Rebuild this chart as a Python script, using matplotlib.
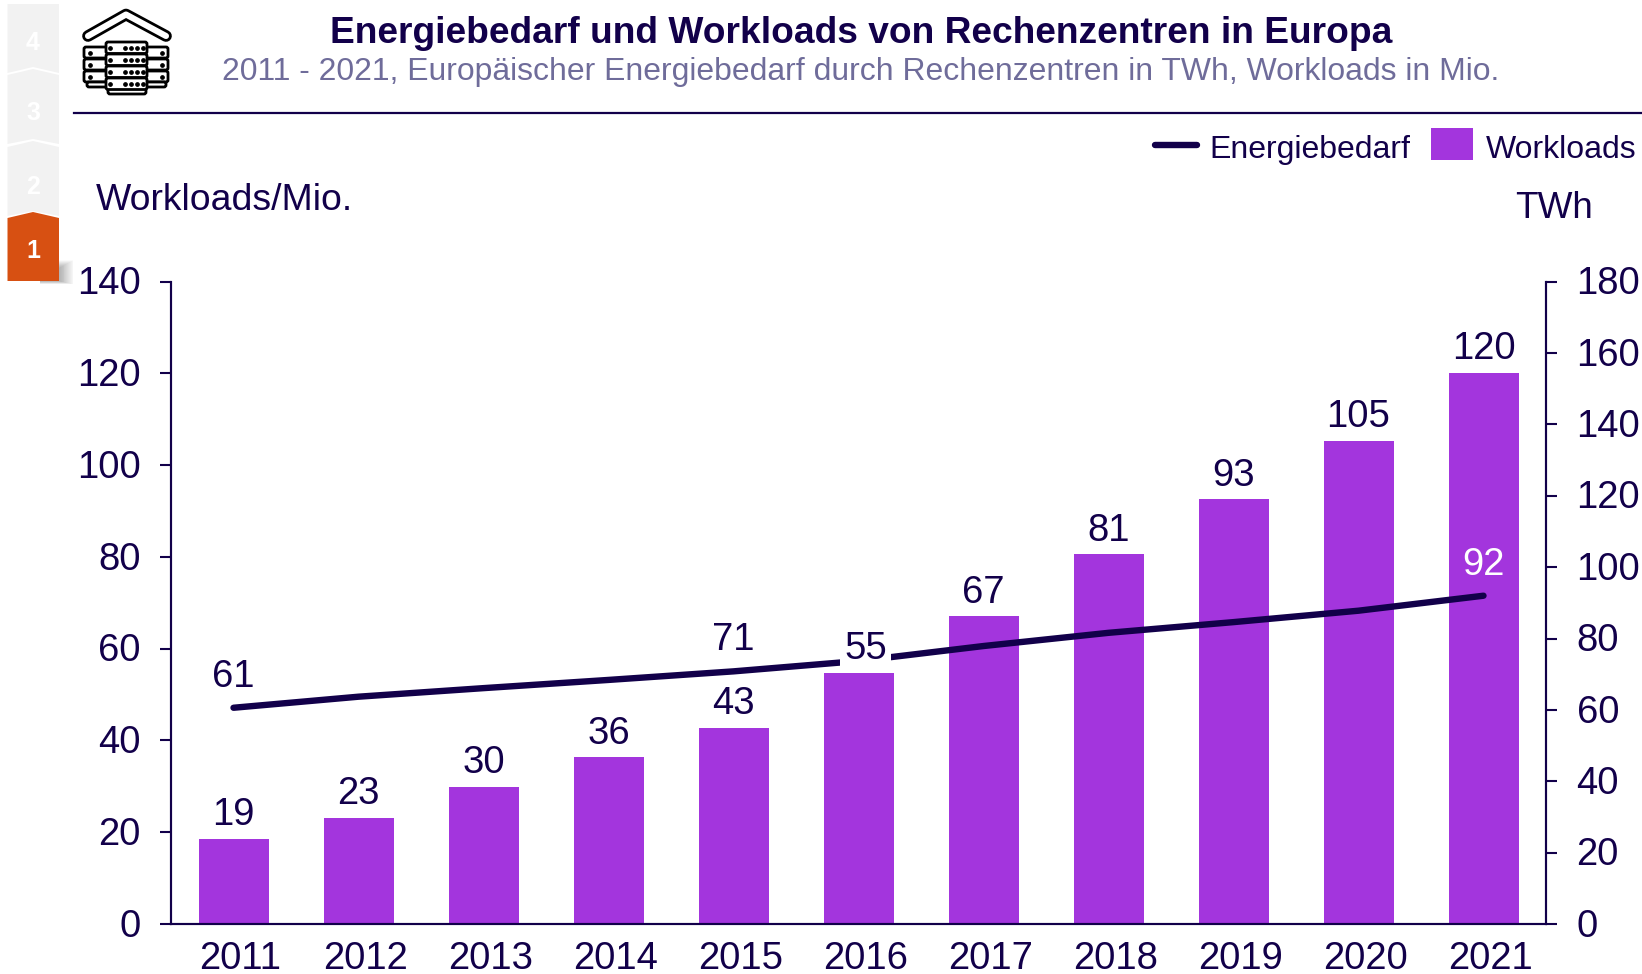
import matplotlib
matplotlib.use("Agg")
import matplotlib.pyplot as plt
from matplotlib.legend_handler import HandlerPatch
from matplotlib.lines import Line2D
from matplotlib.patches import Patch, Polygon, Rectangle, FancyBboxPatch
from matplotlib.transforms import ScaledTranslation

plt.rcParams['font.family'] = ['Liberation Sans', 'DejaVu Sans']

W, H = 1642, 974
NAVY = '#12004A'
GREY_TEXT = '#6F6C9A'
PURPLE = '#A335DD'
ORANGE = '#D75012'
TAB_GREY = '#F2F2F2'

years = ['2011', '2012', '2013', '2014', '2015', '2016', '2017', '2018', '2019', '2020', '2021']
workloads = [18.6, 23.2, 29.9, 36.3, 42.8, 54.8, 67.1, 80.6, 92.6, 105.3, 120.1]
energy = [60.6, 63.7, 66.1, 68.4, 70.8, 73.7, 77.9, 81.6, 84.6, 87.8, 92.0]
energy_labels = {0: '61', 4: '71', 10: '92'}
left_ticks = [0, 20, 40, 60, 80, 100, 120, 140]
right_ticks = [0, 20, 40, 60, 80, 100, 120, 140, 160, 180]

fig = plt.figure(figsize=(W / 100, H / 100), dpi=100, facecolor='white')

# pixel coordinate layer for header, tabs and icon
deco = fig.add_axes([0, 0, 1, 1])
deco.set_xlim(0, W)
deco.set_ylim(H, 0)
deco.axis('off')


def tab(top_side, top_mid, bottom_side, bottom_mid, color, num, num_y):
    pts = [(7.5, top_side), (33, top_mid), (59, top_side), (59, bottom_side),
           (33, bottom_mid), (7.5, bottom_side)]
    deco.add_patch(Polygon(pts, closed=True, fc=color, ec='none'))
    deco.text(33, num_y, num, color='white', fontsize=18, fontweight='bold', ha='center', va='center')


# soft shadow under the active tab, stacked faint layers
for grow in range(1, 17):
    deco.add_patch(Rectangle((40, 268 - grow * 0.5), 19 + grow * 0.9, 13 + grow * 0.7,
                             fc='black', ec='none', alpha=0.02))

tab(4, 4, 73, 67, TAB_GREY, '4', 43)
tab(75, 69, 144, 139, TAB_GREY, '3', 113)
tab(147, 141, 216, 211, TAB_GREY, '2', 187)
tab(218, 212, 281, 281, ORANGE, '1', 251)

# server icon
deco.plot([88, 126, 166], [36, 14.5, 36], color='black', lw=8.4, solid_capstyle='round', solid_joinstyle='round')
deco.plot([88, 126, 166], [36, 14.5, 36], color='white', lw=4.4, solid_capstyle='round', solid_joinstyle='round')


def server(x0, x1, y0, y1):
    deco.add_patch(FancyBboxPatch((x0, y0), x1 - x0, y1 - y0, boxstyle='round,pad=0,rounding_size=2',
                                  fc='white', ec='black', lw=2))


for y0 in [47, 59, 71]:
    server(84, 108, y0, y0 + 11)
    server(146, 168, y0, y0 + 11)
    deco.plot([90, 162], [y0 + 5.5, y0 + 5.5], ls='none', marker='o', ms=2.4, color='black')
server(87, 108, 82, 87)
server(146, 166, 82, 87)
server(108, 146, 88, 94)
for y0 in [42, 54, 66, 78]:
    server(106, 147, y0, y0 + 11.5)
    deco.plot([110, 125, 131, 137, 143], [y0 + 6] * 5, ls='none', marker='o', ms=2.4, color='black')

deco.text(861, 33.5, 'Energiebedarf und Workloads von Rechenzentren in Europa', color=NAVY,
          fontsize=26.7, fontweight='bold', ha='center', va='center')
deco.text(861, 72, '2011 - 2021, Europäischer Energiebedarf durch Rechenzentren in TWh, Workloads in Mio.',
          color=GREY_TEXT, fontsize=22.95, ha='center', va='center')
deco.plot([74, W], [113, 113], color=NAVY, lw=1.6)
deco.text(96, 200, 'Workloads/Mio.', color=NAVY, fontsize=26.9, ha='left', va='center')
deco.text(1515, 209, 'TWh', color=NAVY, fontsize=26.6, ha='left', va='center')

# chart
ax = fig.add_axes([171 / W, 1 - 924 / H, (1546 - 171) / W, (924 - 281.7) / H])
ax.patch.set_alpha(0)
ax2 = ax.twinx()
xs = list(range(len(years)))

ax.bar(xs, workloads, width=0.56, color=PURPLE)
ax2.plot(xs, energy, color=NAVY, lw=4.6, solid_capstyle='round', solid_joinstyle='round')

ax.set_xlim(-0.5, 10.5)
ax.set_ylim(0, 140)
ax2.set_ylim(0, 180)
ax.set_xticks(xs, years)
ax.set_yticks(left_ticks)
ax2.set_yticks(right_ticks)

for a in (ax, ax2):
    a.spines['top'].set_visible(False)
    for s in a.spines.values():
        s.set_color(NAVY)
        s.set_linewidth(1.5)
ax.tick_params(axis='x', length=0, labelsize=27.5, labelcolor=NAVY, pad=12)
ax.tick_params(axis='y', length=8, width=1.5, color=NAVY, labelsize=27.5, labelcolor=NAVY, pad=14)
ax2.tick_params(axis='y', length=8, width=1.5, color=NAVY, labelsize=27.5, labelcolor=NAVY, pad=14)

# year labels sit a little right of the bars in the original
shift = ScaledTranslation(5 / 72, 0, fig.dpi_scale_trans)
for label in ax.get_xticklabels():
    label.set_transform(label.get_transform() + shift)

# tick labels sit a pixel higher than the tick marks
lift = ScaledTranslation(0, 1 / 72, fig.dpi_scale_trans)
for label in ax.get_yticklabels() + ax2.get_yticklabels():
    label.set_transform(label.get_transform() + lift)

for i, v in enumerate(workloads):
    box = None
    dx = 0
    if years[i] == '2016':
        box = dict(fc='white', ec='none', pad=3)
        dx = 5
    ax2.annotate(f'{v:.0f}', xy=(i, v), xycoords=ax.transData, xytext=(dx, 4), textcoords='offset points',
                 ha='center', va='bottom', fontsize=27.5, color=NAVY, bbox=box)
for i, s in energy_labels.items():
    c = 'white' if i == 10 else NAVY
    ax2.annotate(s, xy=(i, energy[i]), xytext=(0, 9.5), textcoords='offset points',
                 ha='center', va='bottom', fontsize=27.5, color=c)


def raised_patch(legend, orig_handle, xdescent, ydescent, width, height, fontsize):
    return Rectangle((-xdescent, -ydescent + 2.5), width, height)


handles = [Line2D([0], [0], color=NAVY, lw=4.6, solid_capstyle='round'), Patch(fc=PURPLE, ec='none')]
fig.legend(handles, ['Energiebedarf', 'Workloads'], ncol=2, loc='upper right',
           bbox_to_anchor=(1636 / W, 1 - 131 / H), frameon=False, fontsize=23, labelcolor=NAVY,
           handlelength=1.3, handleheight=1.2, handletextpad=0.4, columnspacing=0.65, borderpad=0, borderaxespad=0,
           handler_map={Patch: HandlerPatch(patch_func=raised_patch)})

fig.savefig('out.png', dpi=100)
